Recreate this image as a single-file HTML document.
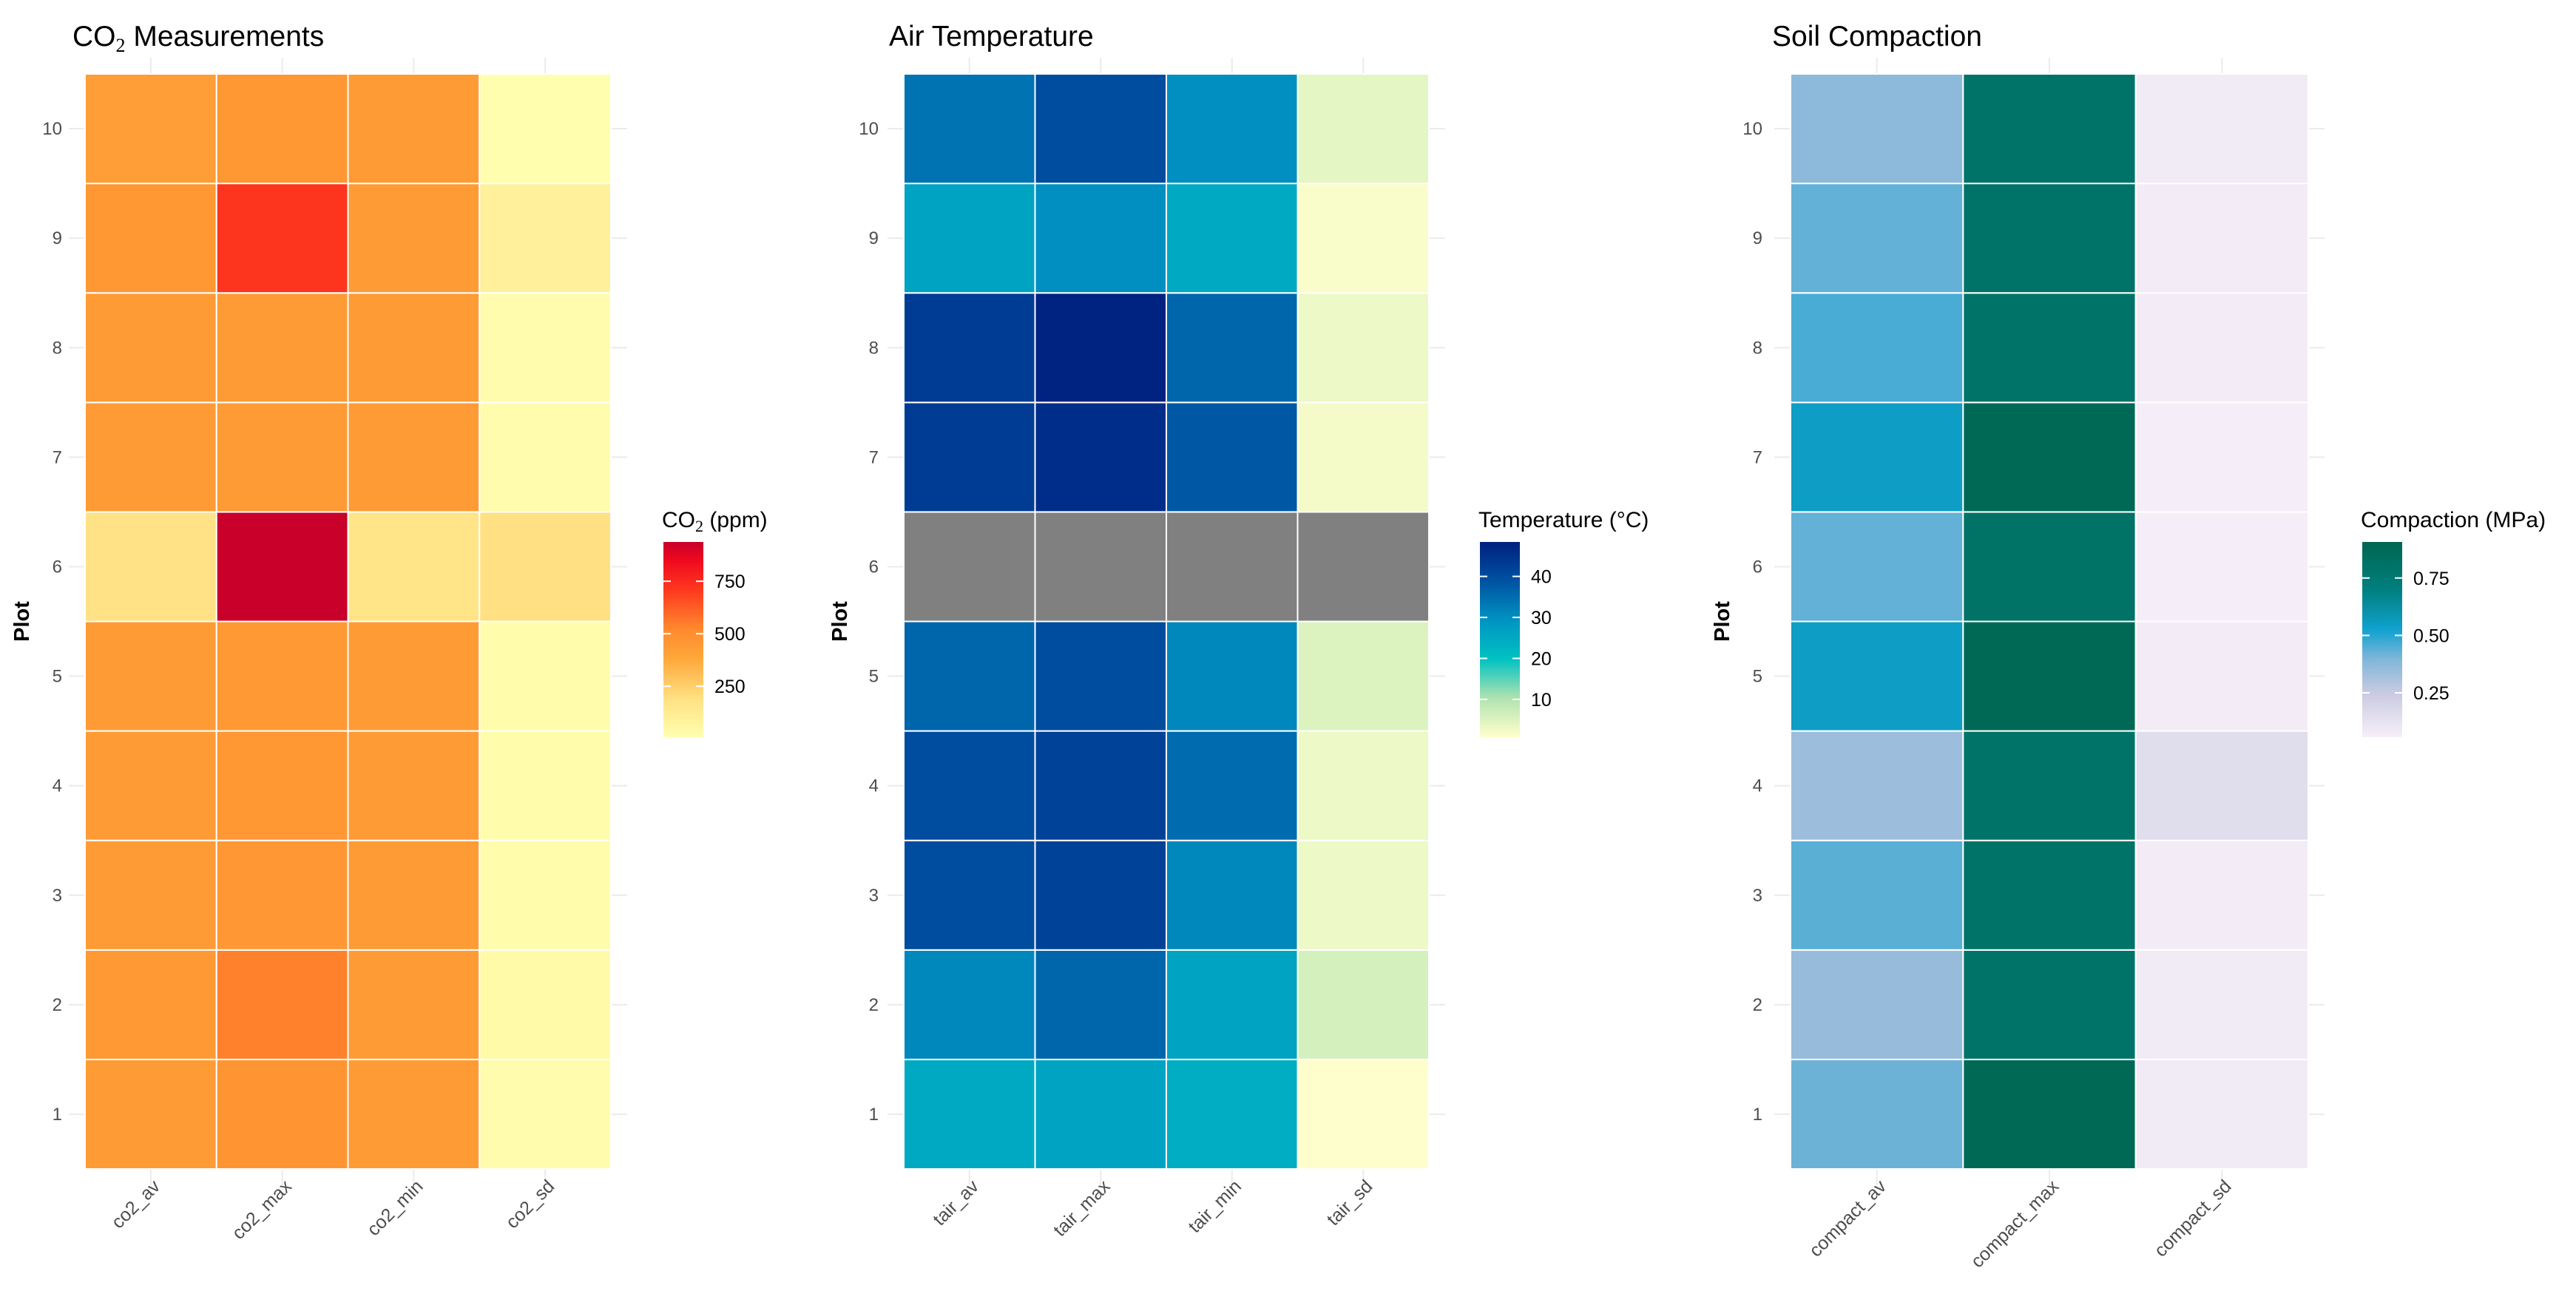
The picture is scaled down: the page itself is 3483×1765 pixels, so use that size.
<!DOCTYPE html>
<html><head><meta charset="utf-8"><style>
html,body{margin:0;padding:0;background:#fff;}
svg{display:block;font-family:"Liberation Sans",sans-serif;}
</style></head><body>
<svg id="chart" width="3483" height="1765" viewBox="0 0 3483 1765"></svg>
<script>
const plots = [1,2,3,4,5,6,7,8,9,10];
const co2Cols = ["co2_av","co2_max","co2_min","co2_sd"];
const co2Av  = [440,450,440,440,440,180,440,440,460,430];
const co2Max = [470,540,455,460,450,937,440,440,720,460];
const co2Min = [440,440,440,440,440,170,440,440,440,440];
const co2Sd  = [20,40,25,25,25,190,20,20,90,15];
const tairCols = ["tair_av","tair_max","tair_min","tair_sd"];
const tairAv  = [25,31,40,40,36,null,43,43,26,34];
const tairMax = [26,36,42,42,40,null,46,48,30,40];
const tairMin = [24,26,31,35,31,null,38,36,25,30];
const tairSd  = [1,6,3,3,5,null,2,3,1.5,4];
const compCols = ["compact_av","compact_max","compact_sd"];
const compAv  = [0.42,0.35,0.44,0.34,0.55,0.43,0.55,0.46,0.43,0.37];
const compMax = [0.88,0.80,0.80,0.80,0.88,0.81,0.88,0.80,0.80,0.80];
const compSd  = [0.08,0.08,0.07,0.15,0.07,0.06,0.06,0.07,0.07,0.08];
const co2Ticks = [250,500,750];
const tairTicks = [10,20,30,40];
const compTicks = [0.25,0.50,0.75];

const NS="http://www.w3.org/2000/svg";
const svg=document.getElementById('chart');
function mk(tag,attrs,parent){const e=document.createElementNS(NS,tag);for(const k in attrs)e.setAttribute(k,attrs[k]);(parent||svg).appendChild(e);return e;}
function hex(h){return [parseInt(h.slice(1,3),16),parseInt(h.slice(3,5),16),parseInt(h.slice(5,7),16)];}
function interp(stops,t){t=Math.max(0,Math.min(1,t));for(let i=1;i<stops.length;i++){if(t<=stops[i][0]){const a=stops[i-1],b=stops[i];const f=(t-a[0])/(b[0]-a[0]);const ca=hex(a[1]),cb=hex(b[1]);return 'rgb('+ca.map((v,j)=>Math.round(v+(cb[j]-v)*f)).join(',')+')';}}return stops[stops.length-1][1];}

const Y0=100,Y1=1581;
const rowH=(Y1-Y0)/plots.length;
function yCenter(p){return Y1-(plots.indexOf(p)+0.5)*rowH;}

const panels=[
 {name:'co2',x0:115,x1:826,cols:co2Cols,series:[co2Av,co2Max,co2Min,co2Sd],lo:8,hi:937,ticks:co2Ticks,fmt:v=>String(v),
  stops:[[0,'#FFFFB0'],[0.2,'#FFE082'],[0.4,'#FFA83A'],[0.55,'#FF8A2E'],[0.75,'#FF3A1F'],[0.9,'#F00A1E'],[1,'#C8002A']],
  titleX:98,labRight:84,plotX:29,legX:897},
 {name:'tair',x0:1222,x1:1932,cols:tairCols,series:[tairAv,tairMax,tairMin,tairSd],lo:0.8,hi:48.4,ticks:tairTicks,fmt:v=>String(v),
  stops:[[0,'#FFFFCC'],[0.2,'#B0E3B0'],[0.4,'#00C2C2'],[0.6,'#0093C2'],[0.8,'#0052A2'],[1,'#002080']],
  titleX:1202,labRight:1188,plotX:1135,legX:2001},
 {name:'compaction',x0:2421,x1:3121,cols:compCols,series:[compAv,compMax,compSd],lo:0.057,hi:0.907,ticks:compTicks,fmt:v=>v.toFixed(2),
  stops:[[0,'#F6EFF8'],[0.22,'#CACBE2'],[0.4,'#80B6D8'],[0.55,'#10A2D0'],[0.75,'#008080'],[1,'#006650']],
  titleX:2396,labRight:2383,plotX:2328,legX:3194}
];
const titles=[["CO","2","  Measurements"],["Air Temperature"],["Soil Compaction"]];
const legTitles=[["CO","2","  (ppm)"],["Temperature (°C)"],["Compaction (MPa)"]];

panels.forEach((P,pi)=>{
  const g=mk('g',{});
  
  
  const colW=(P.x1-P.x0)/P.cols.length;
  const xCenter=i=>P.x0+(i+0.5)*colW;
  plots.forEach(p=>{const l=mk('line',{x1:P.x0-22,x2:P.x1+22,y1:yCenter(p),y2:yCenter(p),stroke:'#ebebeb','stroke-width':2},g);
    });
  P.cols.forEach((c,i)=>{const l=mk('line',{x1:xCenter(i),x2:xCenter(i),y1:Y0-22,y2:Y1+22,stroke:'#ebebeb','stroke-width':2},g);
    });
  P.series.forEach((vals,ci)=>{
    vals.forEach((v,ri)=>{
      const p=plots[ri];
      const fill=v===null?'#808080':interp(P.stops,(v-P.lo)/(P.hi-P.lo));
      const r=mk('rect',{x:P.x0+ci*colW,y:yCenter(p)-rowH/2,width:colW,height:rowH,fill:fill,stroke:'#ffffff','stroke-width':2},g);
      
      
    });
  });
  plots.forEach(p=>{const t=mk('text',{x:P.labRight,y:yCenter(p)+8,'text-anchor':'end','font-size':24,fill:'#4d4d4d'},g);t.textContent=p;
    });
  P.cols.forEach((c,i)=>{const x=xCenter(i)+14,y=1606;
    const t=mk('text',{x:x,y:y,'text-anchor':'end','font-size':25,fill:'#4d4d4d',transform:'rotate(-45 '+x+' '+y+')'},g);t.textContent=c;
    });
  const yt=mk('text',{x:P.plotX+10,y:(Y0+Y1)/2,'text-anchor':'middle','font-size':29,'font-weight':'bold',fill:'#000',transform:'rotate(-90 '+(P.plotX+10)+' '+((Y0+Y1)/2)+')'},g);
  yt.textContent='Plot';
  const tt=mk('text',{x:P.titleX,y:62,'font-size':39,fill:'#000','xml:space':'preserve'},g);
  
  const tp=titles[pi];
  if(tp.length===3){const a=mk('tspan',{},tt);a.textContent=tp[0];const b=mk('tspan',{'font-size':26,dy:8,'font-family':'Liberation Serif'},tt);b.textContent=tp[1];const c=mk('tspan',{dy:-8},tt);c.textContent=tp[2];}
  else tt.textContent=tp[0];
  const lg=mk('g',{},g);
  const lt=mk('text',{x:P.legX-2,y:713,'font-size':30,fill:'#000','xml:space':'preserve'},lg);
  
  const lp=legTitles[pi];
  if(lp.length===3){const a=mk('tspan',{},lt);a.textContent=lp[0];const b=mk('tspan',{'font-size':22,dy:6,'font-family':'Liberation Serif'},lt);b.textContent=lp[1];const c=mk('tspan',{dy:-6},lt);c.textContent=lp[2];}
  else lt.textContent=lp[0];
  const LB0=733,LB1=997,LW=54;
  const gid='grad'+pi;
  const defs=mk('defs',{},lg);const gr=mk('linearGradient',{id:gid,x1:0,y1:1,x2:0,y2:0},defs);
  P.stops.forEach(s=>mk('stop',{offset:s[0],'stop-color':s[1]},gr));
  const bar=mk('rect',{x:P.legX,y:LB0,width:LW,height:LB1-LB0,fill:'url(#'+gid+')'},lg);
  
  const ly=v=>LB1-(v-P.lo)/(P.hi-P.lo)*(LB1-LB0);
  P.ticks.forEach(v=>{const y=ly(v);
    mk('line',{x1:P.legX,x2:P.legX+10,y1:y,y2:y,stroke:'#fff','stroke-width':2},lg);
    mk('line',{x1:P.legX+LW-10,x2:P.legX+LW,y1:y,y2:y,stroke:'#fff','stroke-width':2},lg);
    const t=mk('text',{x:P.legX+LW+15,y:y+9,'font-size':25,fill:'#000'},lg);t.textContent=P.fmt(v);
    });
});
</script>
</body></html>
